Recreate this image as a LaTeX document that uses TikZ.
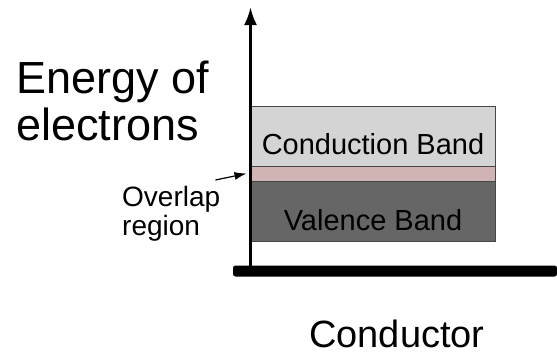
\documentclass[tikz,border=0pt]{standalone}
\usepackage{fontspec}
\setmainfont{Liberation Sans}
\usepackage{tikz}
\usetikzlibrary{arrows.meta}
\usepackage{xcolor}
\definecolor{condgray}{RGB}{212, 212, 212}
\definecolor{overlappink}{RGB}{208, 180, 180}
\definecolor{valgray}{RGB}{102, 102, 102}
\definecolor{edgegray}{RGB}{70, 70, 70}

\begin{document}
\begin{tikzpicture}[x=1pt, y=-1pt, >=Latex,
    band/.style={draw=edgegray, line width=1pt, minimum width=244pt, inner sep=0pt,
      font=\fontsize{29}{30}\selectfont}]
    \useasboundingbox (0,0) rectangle (557,354);
    % bands
    \node[band, fill=condgray, minimum height=60pt] (cb) at (373,136) {};
    \node[band, fill=overlappink, minimum height=15pt] (ov) at (373,173.5) {};
    \node[band, fill=valgray, minimum height=60pt] (vb) at (373,211) {};
    \node[anchor=base, inner sep=0pt, font=\fontsize{29}{30}\selectfont]
      (cblabel) at (373,154) {Conduction Band};
    \node[anchor=base, inner sep=0pt, font=\fontsize{29}{30}\selectfont]
      (vblabel) at (373,230) {Valence Band};
    % axes
    \fill[rounded corners=2.5pt] (233,265.5) rectangle (557,276.5);
    \coordinate (base) at (250.5,266);
    \coordinate (top) at (250.5,7);
    \draw[line width=3pt, -{Latex[length=18pt, width=13pt]}] (base) -- (top);
    % labels
    \node[anchor=north west, align=left, inner sep=0pt,
      font=\fontsize{45}{47}\selectfont] (energy) at (16,61) {Energy of\\electrons};
    \node[anchor=north west, align=left, inner sep=0pt,
      font=\fontsize{28}{29}\selectfont] (ovl) at (122,186) {Overlap\\region};
    \draw[line width=1.2pt, ->, >={Latex[length=12pt, width=8pt]}]
      ([xshift=-5pt, yshift=6pt]ovl.north east) -- ([xshift=-4pt]ov.west);
    \node[anchor=base west, inner sep=0pt,
      font=\fontsize{38}{40}\selectfont] (cond) at (309,347) {Conductor};
  \end{tikzpicture}
\end{document}
